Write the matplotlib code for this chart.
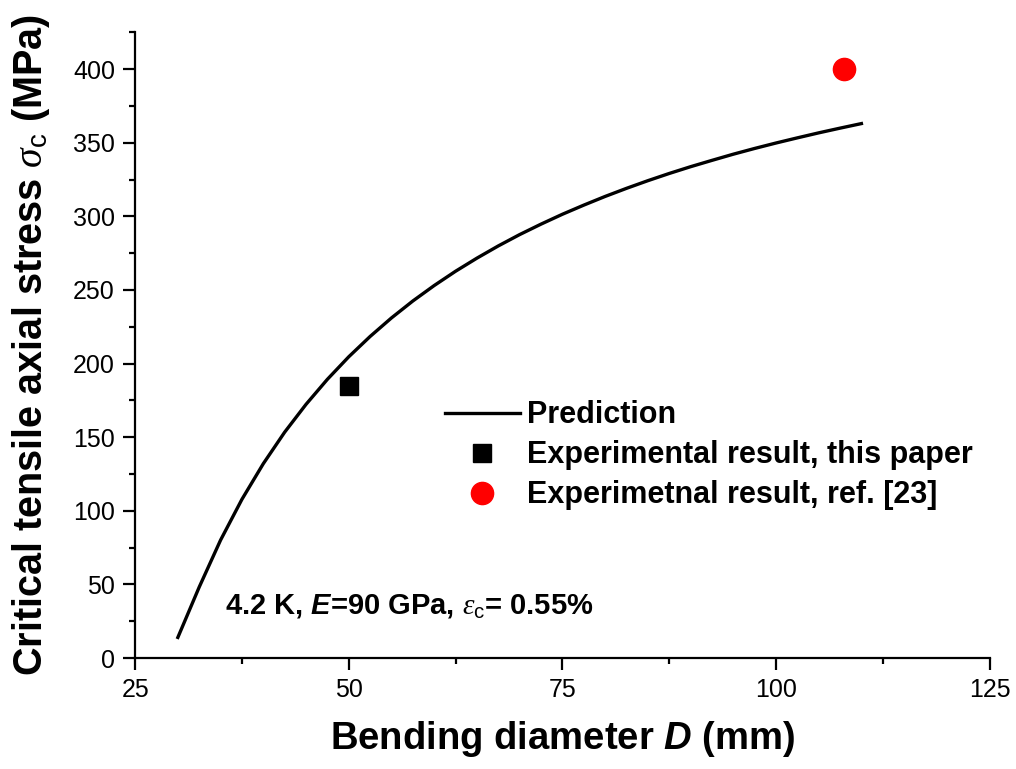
import numpy as np
import matplotlib.pyplot as plt
from matplotlib.ticker import MultipleLocator

# curva di previsione
diam_pred = [30, 32.5, 35, 37.5, 40, 42.5, 45, 47.5, 50, 52.5, 55, 57.5, 60,
             62.5, 65, 67.5, 70, 72.5, 75, 77.5, 80, 82.5, 85, 87.5, 90,
             92.5, 95, 97.5, 100, 102.5, 105, 107.5, 110]
stress_pred = [14, 48.2, 80.1, 107.8, 132, 153.4, 172.3, 189.3, 204.6, 218.4,
               231, 242.5, 253, 262.7, 271.6, 279.9, 287.6, 294.7, 301.4,
               307.6, 313.5, 319, 324.2, 329.1, 333.7, 338, 342.2, 346.1,
               349.8, 353.3, 356.7, 359.9, 363]

# punti sperimentali
diam_exp = [50]
stress_exp = [185]
diam_ref = [108]
stress_ref = [400]

plt.rcParams['font.family'] = ['Liberation Sans', 'DejaVu Sans']
plt.rcParams['mathtext.fontset'] = 'custom'
plt.rcParams['mathtext.rm'] = 'Liberation Sans'
plt.rcParams['mathtext.it'] = 'Liberation Serif:italic'
plt.rcParams['mathtext.bf'] = 'Liberation Sans:bold:italic'

fig = plt.figure(figsize=(10.16, 7.69), dpi=100)
ax = fig.add_axes([0.133, 0.1443, 0.841, 0.8137])

ax.plot(diam_pred, stress_pred, color='black', lw=2.4,
        solid_joinstyle='round', label='Prediction')
ax.plot(diam_exp, stress_exp, 's', color='black', ms=13, lw=0,
        label='Experimental result, this paper')
ax.plot(diam_ref, stress_ref, 'o', color='red', ms=16, lw=0,
        label='Experimetnal result, ref. [23]')

ax.set_xlim(25, 125)
ax.set_ylim(0, 425)
ax.xaxis.set_major_locator(MultipleLocator(25))
ax.xaxis.set_minor_locator(MultipleLocator(12.5))
ax.yaxis.set_major_locator(MultipleLocator(50))
ax.yaxis.set_minor_locator(MultipleLocator(25))

for s in ['top', 'right']:
    ax.spines[s].set_visible(False)
for s in ['left', 'bottom']:
    ax.spines[s].set_linewidth(1.6)

ax.tick_params(which='major', direction='out', length=8.5, width=1.6,
               labelsize=18, pad=6)
ax.tick_params(which='minor', direction='out', length=4, width=1.6)

ax.set_xlabel(r'Bending diameter $\mathbf{D}$ (mm)', fontsize=27.5,
              fontweight='bold')
ax.set_ylabel(r'Critical tensile axial stress $\sigma_{\rm c}$ (MPa)',
              fontsize=28.5, fontweight='bold')
ax.xaxis.set_label_coords(0.5, -0.098)
ax.yaxis.set_label_coords(-0.097, 0.5)

ax.text(35.5, 30.5, r'4.2 K, $\mathbf{E}$=90 GPa, $\varepsilon_{\rm c}$= 0.55%',
        fontsize=21, fontweight='bold', va='baseline')

ax.legend(loc='upper left', bbox_to_anchor=(0.3626, 0.412), frameon=False,
          borderpad=0, borderaxespad=0, handlelength=2.45, handletextpad=0.23,
          labelspacing=0.33, prop={'size': 22, 'weight': 'bold'})

plt.savefig('out.png', dpi=100)
